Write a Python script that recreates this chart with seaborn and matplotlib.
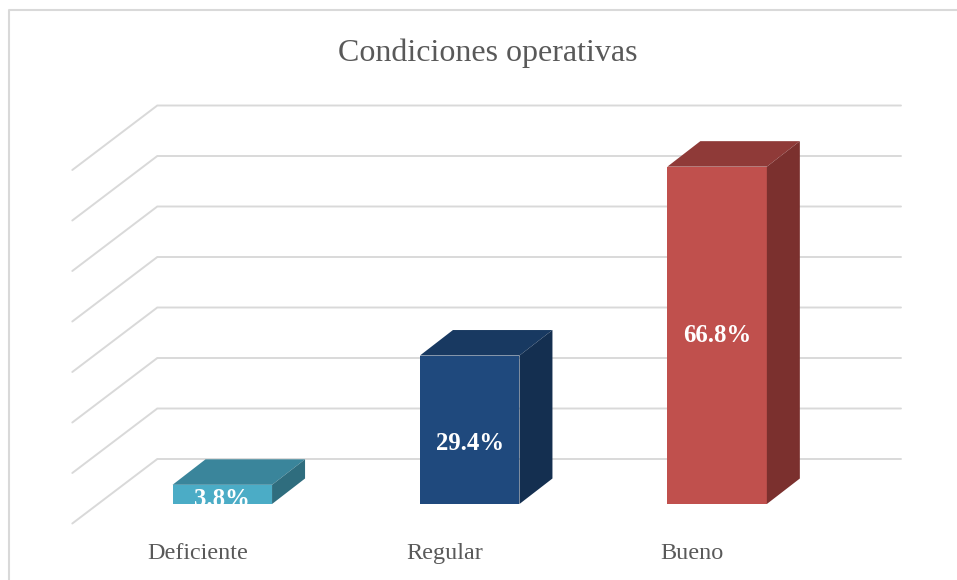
import matplotlib
matplotlib.use("Agg")
import matplotlib.pyplot as plt
from matplotlib.lines import Line2D
from matplotlib.patches import Polygon
import pandas as pd
import seaborn as sns

# -----------------------------------------------------------------------------
# DATA
# -----------------------------------------------------------------------------

categories = ["Deficiente", "Regular", "Bueno"]
values = [3.8, 29.4, 66.8]
value_labels = ["3.8%", "29.4%", "66.8%"]
grid_values = [0, 10, 20, 30, 40, 50, 60, 70]

front_colors = ["#4BACC6", "#1F497D", "#C0504D"]
top_colors = ["#3A859B", "#183961", "#8F3A38"]
side_colors = ["#2F6D7E", "#142F50", "#7B302E"]

# -----------------------------------------------------------------------------
# LAYOUT (pixels of the 957x580 picture)
# -----------------------------------------------------------------------------

W, H = 957, 580
PX_PER_CAT = 247.4
PX_PER_UNIT = 5.05
CAT0_X = 222.3
BASE_Y = 504

DX = 33 / PX_PER_CAT      # bar depth
DY = 25.5 / PX_PER_UNIT
WALL_DX = -65 / PX_PER_CAT    # back wall corner relative to first bar centre
WALL_DY = 45 / PX_PER_UNIT
SIDE_DX = 85 / PX_PER_CAT     # length of the diagonal on the left wall
SIDE_DY = 64.5 / PX_PER_UNIT
GRID_RIGHT = (901 - CAT0_X) / PX_PER_CAT
LABEL_SHIFT = [-5, -14, 0]    # label offset from bar middle, pixels

GRID_COLOR = "#D9D9D9"
TEXT_COLOR = "#595959"

sns.set_theme(style="white")
plt.rcParams["font.family"] = ["Liberation Serif", "DejaVu Serif"]

df = pd.DataFrame({"categoria": categories, "valor": values})

fig = plt.figure(figsize=(W / 100, H / 100), dpi=100, facecolor="white")
ax = fig.add_axes([0, 0, 1, 1])

# Front faces of the bars
sns.barplot(
    data=df, x="categoria", y="valor", hue="categoria", order=categories,
    hue_order=categories, palette=front_colors, width=99.5 / PX_PER_CAT,
    saturation=1, legend=False, ax=ax, zorder=3, linewidth=0,
)

ax.set_xlim(-CAT0_X / PX_PER_CAT, (W - CAT0_X) / PX_PER_CAT)
ax.set_ylim(-(H - BASE_Y) / PX_PER_UNIT, BASE_Y / PX_PER_UNIT)
ax.set_axis_off()

# Gridlines on the back wall, with the diagonal on the left wall
for g in grid_values:
    y = g + WALL_DY
    ax.plot([WALL_DX - SIDE_DX, WALL_DX, GRID_RIGHT], [y - SIDE_DY, y, y],
            color=GRID_COLOR, linewidth=1.4, zorder=1, solid_joinstyle="miter")

# Top and side faces of the bars, built from the bars seaborn drew
for bar, top_c, side_c, label, shift in zip(ax.patches, top_colors, side_colors, value_labels, LABEL_SHIFT):
    x0, x1 = bar.get_x(), bar.get_x() + bar.get_width()
    h = bar.get_height()
    ax.add_patch(Polygon([(x0, h), (x1, h), (x1 + DX, h + DY), (x0 + DX, h + DY)],
                         facecolor=top_c, edgecolor="none", zorder=3))
    ax.add_patch(Polygon([(x1, 0), (x1 + DX, DY), (x1 + DX, h + DY), (x1, h)],
                         facecolor=side_c, edgecolor="none", zorder=3))
    txt = ax.text((x0 + x1) / 2, h / 2 + shift / PX_PER_UNIT, label, color="white",
                  fontsize=17.8, fontweight="bold", ha="center", va="center", zorder=4)
    txt.set_clip_path(bar)
    txt.set_clip_on(True)

# Category labels sit left of the bar centres, as in the 3D projection
for i, cat in enumerate(categories):
    ax.text(i - 25 / PX_PER_CAT, -(559 - BASE_Y) / PX_PER_UNIT, cat, color=TEXT_COLOR,
            fontsize=17.4, ha="center", va="baseline")

fig.text(488 / W, 1 - 53 / H, "Condiciones operativas", color=TEXT_COLOR,
         fontsize=23, ha="center", va="center")

# Chart frame: only top and left edges are visible in the crop
fig.add_artist(Line2D([9 / W, 9 / W, 1], [0, 1 - 10 / H, 1 - 10 / H], color=GRID_COLOR, linewidth=1.5))

fig.savefig("out.png", dpi=100, facecolor="white")
plt.close(fig)
